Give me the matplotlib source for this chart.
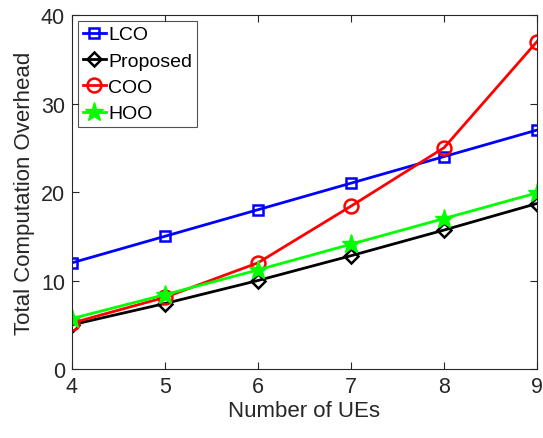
import matplotlib
matplotlib.use("Agg")
import matplotlib.pyplot as plt

x_ues = [4, 5, 6, 7, 8, 9]
lco = [12.0, 15.0, 18.0, 21.0, 24.0, 27.0]
proposed = [5.0, 7.4, 10.0, 12.8, 15.7, 18.7]
coo = [5.2, 8.1, 12.0, 18.4, 25.0, 37.0]
hoo = [5.7, 8.4, 11.2, 14.1, 17.0, 19.9]
series_names = ["LCO", "Proposed", "COO", "HOO"]

plt.rcParams['font.family'] = ['Liberation Sans', 'DejaVu Sans']

fig = plt.figure(figsize=(5.43, 4.39), dpi=100)
ax = fig.add_axes([72/543, 1 - 370/439, (537-72)/543, (370-16)/439])

ax.plot(x_ues, lco, color='#0000ff', lw=2, marker='s', ms=7, mfc='none', mew=1.8, label=series_names[0])
ax.plot(x_ues, proposed, color='black', lw=2, marker='D', ms=7.5, mfc='none', mew=1.8, label=series_names[1])
ax.plot(x_ues, coo, color='#ff0000', lw=2, marker='o', ms=10, mfc='none', mew=1.8, label=series_names[2])
ax.plot(x_ues, hoo, color='#00ff00', lw=2, marker='*', ms=14, mew=1.0, label=series_names[3])

ax.set_xlim(4, 9)
ax.set_ylim(0, 40)
ax.set_xticks([4, 5, 6, 7, 8, 9])
ax.set_yticks([0, 10, 20, 30, 40])
ax.tick_params(direction='in', top=True, right=True, labelsize=15.5, colors='#262626', length=5, width=0.8, pad=5)
for s in ax.spines.values():
    s.set_color('#262626')
    s.set_linewidth(0.8)
ax.set_xlabel("Number of UEs", fontsize=16, color='#262626', labelpad=2)
ax.set_ylabel("Total Computation Overhead", fontsize=16, color='#262626', labelpad=4)

leg = ax.legend(loc='upper left', fontsize=14, frameon=True, fancybox=False,
                edgecolor='#262626', handlelength=1.2, handletextpad=0.1,
                borderpad=0.25, labelspacing=0.45, borderaxespad=0.3)
leg.get_frame().set_linewidth(0.8)

fig.savefig("out.png", dpi=100)
